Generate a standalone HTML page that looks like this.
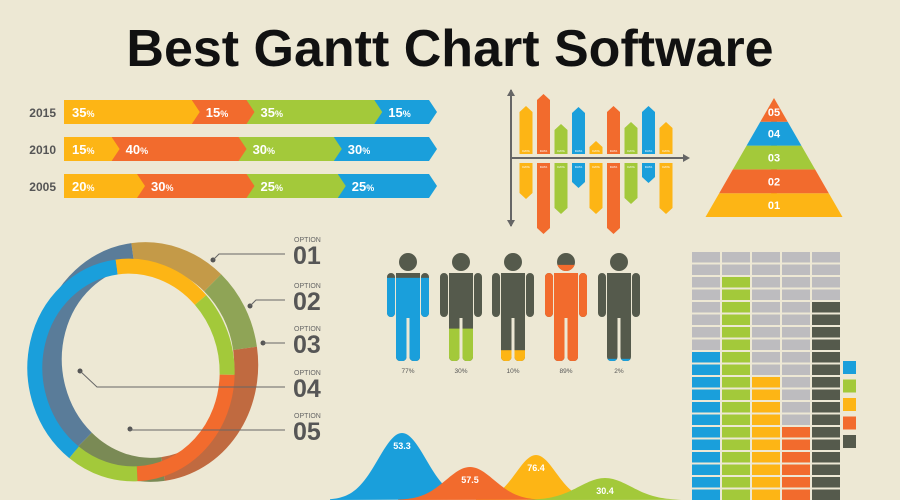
<!DOCTYPE html>
<html><head><meta charset="utf-8"><style>
html,body{margin:0;padding:0;background:#ede8d4;}
svg{display:block;font-family:"Liberation Sans",sans-serif;}
</style></head><body>
<svg id="s" width="900" height="500" viewBox="0 0 900 500" xmlns="http://www.w3.org/2000/svg">
<rect width="900" height="500" fill="#ede8d4"/>
<text x="450" y="66" text-anchor="middle" font-size="52" font-weight="bold" fill="#111">Best Gantt Chart Software</text>
<g id="gantt"></g>
<g id="bars"></g>
<g id="pyr"></g>
<g id="ring"></g>
<g id="people"></g>
<g id="waffle"></g>
<g id="bells"></g>
</svg>
<script>
const NS="http://www.w3.org/2000/svg";
const C={y:"#fdb515",o:"#f26b2d",g:"#a3c93a",b:"#1a9fdb",d:"#555a4c",gr:"#bdbcbf"};
// Gantt data
const ganttYears=["2015","2010","2005"];
const ganttValues=[[35,15,35,15],[15,40,30,30],[20,30,25,25]];
const ganttColors=[C.y,C.o,C.g,C.b];
// Bar data
const barUp=[48,60,30,47,13,48,32,48,32];
const barDown=[36,71,51,25,51,71,41,20,51];
const barColors=[C.y,C.o,C.g,C.b,C.y,C.o,C.g,C.b,C.y];
// Pyramid
const pyrLabels=["05","04","03","02","01"];
const pyrColors=[C.o,C.b,C.g,C.o,C.y];
// People
const peoplePct=[77,30,10,89,2];
const peopleColors=[C.b,C.g,C.y,C.o,C.b];
// Waffle
const waffleCounts=[12,18,10,6,16];
const waffleColors=[C.b,C.g,C.y,C.o,C.d];
// Bells
const bellValues=[53.3,57.5,76.4,30.4];
const bellPeaks=[67,33,45,22];
const bellCenters=[402,470,536,605];
const bellColors=[C.b,C.o,C.y,C.g];

function el(t,a,p){const e=document.createElementNS(NS,t);for(const k in a)e.setAttribute(k,a[k]);(p||document.getElementById('s')).appendChild(e);return e;}

// Gantt
(function(){
 const g=document.getElementById('gantt');
 const x0=64,W=365,h=24,rowY=[100,137,174],a=8;
 const sx=v=>v/100*W;
 ganttValues.forEach((vals,r)=>{
  const y=rowY[r];
  const t=el('text',{x:56,y:y+17,'text-anchor':'end','font-size':12,'font-weight':'bold',fill:'#555'},g);
  t.textContent=ganttYears[r];
  
  
  const tot=vals.reduce((s,v)=>s+v,0);
  let starts=[],acc=0;vals.forEach(v=>{starts.push(acc);acc+=v;});
  for(let i=vals.length-1;i>=0;i--){
   const s=x0+sx(starts[i]/tot*100),e=x0+sx((starts[i]+vals[i])/tot*100);
   const p=el('polygon',{points:`${s},${y} ${e},${y} ${e+a},${y+h/2} ${e},${y+h} ${s},${y+h}`,fill:ganttColors[i]},g);
   
   
  }
  vals.forEach((v,i)=>{
   const s=x0+sx(starts[i]/tot*100)+(i?14:8);
   const t2=el('text',{x:s,y:y+17,'font-size':13,'font-weight':'bold',fill:'#fff'},g);
   t2.innerHTML=v+'<tspan font-size="9">%</tspan>';
   
   
  });
 });
})();

// Bars
(function(){
 const g=document.getElementById('bars');
 const ax=511,ay=158,w=13,c0=526,dx=17.5;
 barUp.forEach((v,i)=>{
  const cx=c0+i*dx,b=154,top=b-v;
  const p=el('polygon',{points:`${cx-w/2},${b} ${cx-w/2},${top+6} ${cx},${top} ${cx+w/2},${top+6} ${cx+w/2},${b}`,fill:barColors[i]},g);
  
  
  const d=barDown[i],t=163,bt=t+d;
  const q=el('polygon',{points:`${cx-w/2},${t} ${cx+w/2},${t} ${cx+w/2},${bt-6} ${cx},${bt} ${cx-w/2},${bt-6}`,fill:barColors[i]},g);
  
  
  [[cx,152],[cx,168]].forEach(pt=>{const tx=el('text',{x:pt[0],y:pt[1],'text-anchor':'middle','font-size':3,fill:'#fff'},g);tx.textContent='DATA';});
 });
 el('line',{x1:ax,y1:90,x2:ax,y2:226,stroke:'#666','stroke-width':2},g);
 el('line',{x1:ax,y1:ay,x2:688,y2:ay,stroke:'#666','stroke-width':2},g);
 el('polygon',{points:`${ax-4},96 ${ax},89 ${ax+4},96`,fill:'#666'},g);
 el('polygon',{points:`${ax-4},220 ${ax},227 ${ax+4},220`,fill:'#666'},g);
 el('polygon',{points:`683,${ay-4} 690,${ay} 683,${ay+4}`,fill:'#666'},g);
})();

// Pyramid
(function(){
 const g=document.getElementById('pyr');
 const ax=774,top=98,base=217,hw=68.5,n=5,bh=(base-top)/n;
 for(let i=n-1;i>=0;i--){
  const y1=top+i*bh,y2=top+(i+1)*bh;
  const w1=hw*(y1-top)/(base-top),w2=hw*(y2-top)/(base-top);
  const pts=i==0?`${ax},${y1} ${ax+w2},${y2} ${ax-w2},${y2}`:`${ax-w1},${y1} ${ax-3},${y1} ${ax},${y1-3} ${ax+3},${y1} ${ax+w1},${y1} ${ax+w2},${y2} ${ax-w2},${y2}`;
  const p=el('polygon',{points:pts,fill:pyrColors[i]},g);
  
  
  const t=el('text',{x:ax,y:y1+bh/2+(i==0?6:4),'text-anchor':'middle','font-size':11,'font-weight':'bold',fill:'#fff'},g);
  t.textContent=pyrLabels[i];
 }
})();

// Ring
(function(){
 const g=document.getElementById('ring');
 function arc(cx,cy,rx,ry,a1,a2,col,sw,rot){
  const P=a=>{const r=a*Math.PI/180;return [cx+rx*Math.cos(r),cy+ry*Math.sin(r)];};
  const [x1,y1]=P(a1),[x2,y2]=P(a2);const large=Math.abs(a2-a1)>180?1:0;
  const p=el('path',{d:`M${x1},${y1} A${rx},${ry} 0 ${large} 1 ${x2},${y2}`,fill:'none',stroke:col,'stroke-width':sw,transform:`rotate(${rot} ${cx} ${cy})`},g);
  
  
 }
 // back ring (darker)
 const bs=[[-90,-40,'#c49a48'],[-40,0,'#8fa456'],[0,90,'#c06a40'],[90,140,'#7a8a55'],[140,270,'#5a7c99']];
 bs.forEach(s=>arc(148,362,98,108,s[0],s[1],s[2],24,-8));
 // front ring
 const fs=[[-90,-35,C.y],[-35,10,C.g],[10,95,C.o],[95,135,C.g],[135,270,C.b]];
 fs.forEach(s=>arc(131,370,96,104,s[0],s[1],s[2],15,-8));
 const opts=[[254,[[213,260],[219,254]]],[300,[[250,306],[256,300]]],[343,[[263,343],[263,343]]],[387,[[80,371],[97,387]]],[430,[[130,429],[130,430]]]];
 opts.forEach((o,i)=>{
  const y=o[0],[d,c]=o[1];
  el('circle',{cx:d[0],cy:d[1],r:2.5,fill:'#555'},g);
  el('polyline',{points:`${d[0]},${d[1]} ${c[0]},${c[1]} 285,${y}`,fill:'none',stroke:'#666','stroke-width':1},g);
  const t=el('text',{x:294,y:y-12,'font-size':7,fill:'#666'},g);t.textContent='OPTION';
  const n=el('text',{x:293,y:y+10,'font-size':25,'font-weight':'bold',fill:'#565656'},g);n.textContent='0'+(i+1);
  
  
 });
})();

// People
(function(){
 const g=document.getElementById('people');
 const centers=[408,461,513,566,619];
 const top=253,bot=361,H=bot-top;
 const defs=el('defs',{},g);
 peoplePct.forEach((p,i)=>{
  const cx=centers[i];
  const cp=el('clipPath',{id:'pc'+i},defs);
  el('circle',{cx:cx,cy:262,r:9},cp);
  el('rect',{x:cx-21,y:273,width:8,height:44,rx:4},cp);
  el('rect',{x:cx+13,y:273,width:8,height:44,rx:4},cp);
  el('rect',{x:cx-12,y:273,width:24,height:45},cp);
  el('rect',{x:cx-12,y:312,width:10.5,height:49,rx:4},cp);
  el('rect',{x:cx+1.5,y:312,width:10.5,height:49,rx:4},cp);
  const fg=el('g',{'clip-path':`url(#pc${i})`},g);
  
  
  el('rect',{x:cx-25,y:top,width:50,height:H,fill:C.d},fg);
  const fh=H*p/100;
  el('rect',{x:cx-25,y:bot-fh,width:50,height:fh,fill:peopleColors[i]},fg);
  const t=el('text',{x:cx,y:373,'text-anchor':'middle','font-size':6.5,fill:'#555'},g);
  t.textContent=p+'%';
 });
})();

// Waffle
(function(){
 const g=document.getElementById('waffle');
 const rows=20,x0=692,dx=30,y0=252,dy=12.5;
 waffleCounts.forEach((n,c)=>{
  for(let r=0;r<rows;r++){
   const filled=r>=rows-n;
   const q=el('rect',{x:x0+c*dx,y:y0+r*dy,width:28,height:10.5,fill:filled?waffleColors[c]:C.gr},g);
   
   
  }
  const l=el('rect',{x:843,y:361+c*18.5,width:13,height:13,fill:waffleColors[c]},g);
  
  
 });
})();

// Bells
(function(){
 const g=document.getElementById('bells');
 const base=500,sig=[24,24,20,26];
 const order=[0,2,1,3];
 order.forEach(i=>{
  const cx=bellCenters[i],pk=bellPeaks[i],s=sig[i];
  let d=`M${cx-3*s},${base}`;
  for(let x=-3*s;x<=3*s;x+=2){d+=` L${cx+x},${base-pk*Math.exp(-x*x/(2*s*s))}`;}
  d+=' Z';
  const p=el('path',{d:d,fill:bellColors[i]},g);
  
  
 });
 order.forEach(i=>{
  const t=el('text',{x:bellCenters[i],y:base-bellPeaks[i]+16,'text-anchor':'middle','font-size':9,'font-weight':'bold',fill:'#fff'},g);
  t.textContent=bellValues[i];
 });
})();
</script>
</body></html>
